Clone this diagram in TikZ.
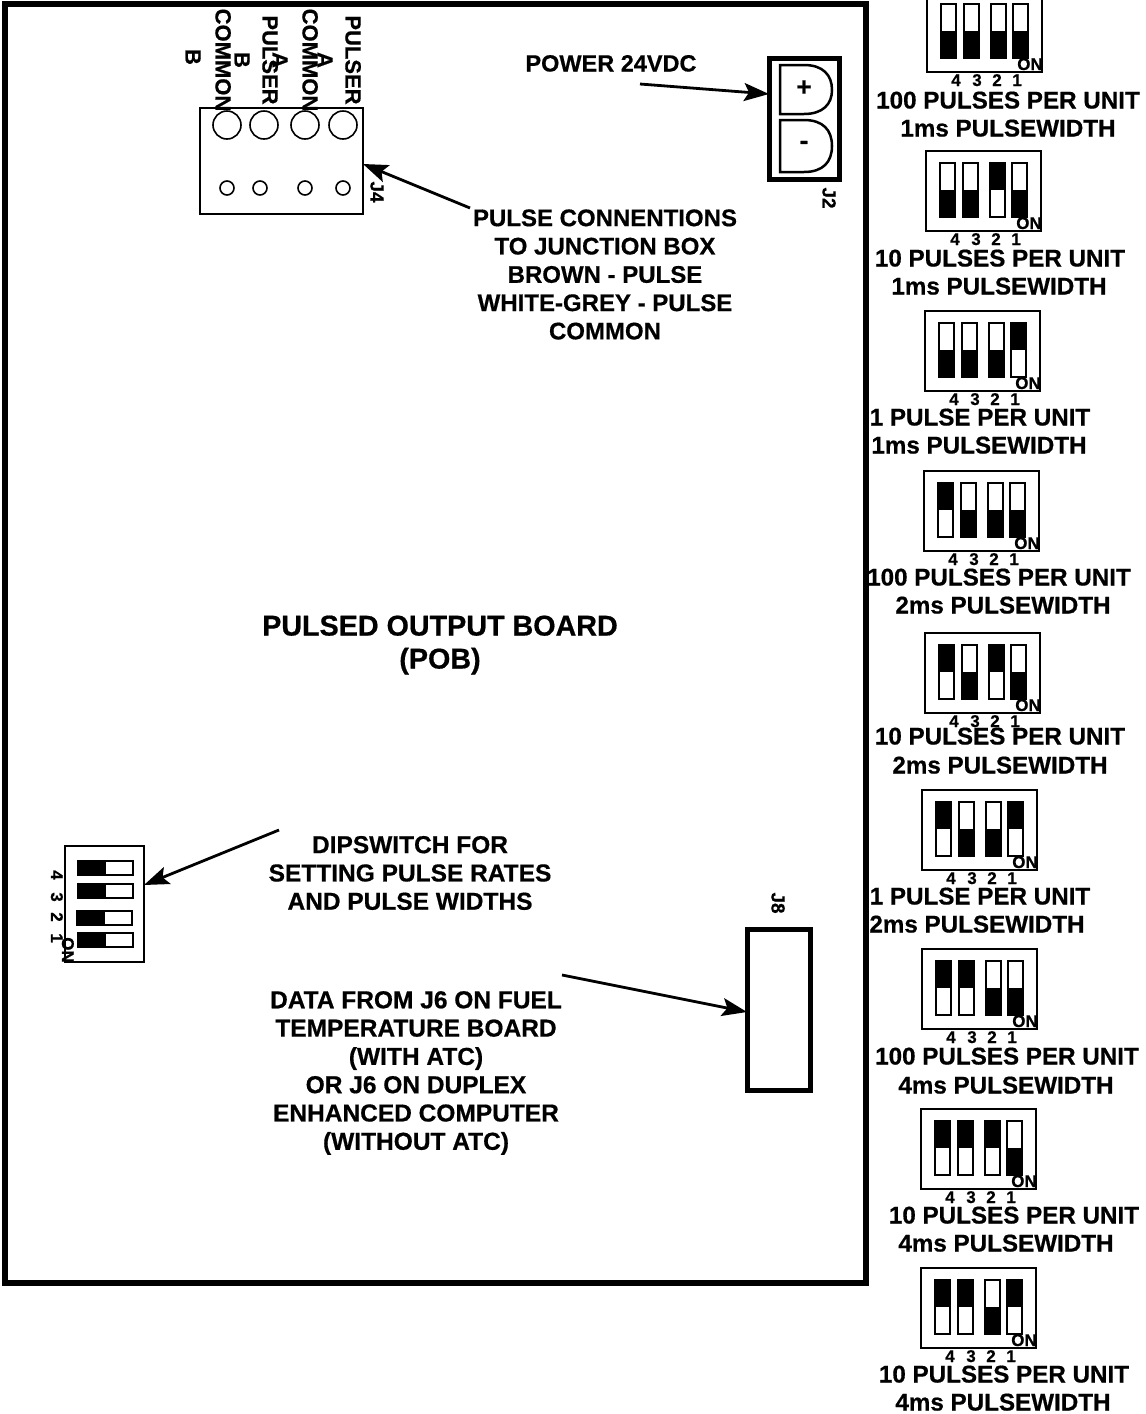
\documentclass[tikz,border=0pt]{standalone}
\usepackage{fontspec}
\setmainfont{Liberation Sans}[BoldFeatures={FakeBold=0.6}]
\usetikzlibrary{arrows.meta}
\tikzset{
  x=1pt,y=-1pt,
  lbl/.style={inner sep=0pt,outer sep=0pt,text depth=0pt,text height=17pt,font=\bfseries\fontsize{24.2}{28.3}\selectfont},
  block/.style={inner sep=0pt,outer sep=0pt,align=center,font=\bfseries\fontsize{24.5}{28.3}\selectfont},
  pin/.style={inner sep=0pt,outer sep=0pt,rotate=-90,text depth=0pt,text height=15pt,font=\bfseries\fontsize{22}{22}\selectfont},
  jlab/.style={pin,text height=13pt,font=\bfseries\fontsize{19}{19}\selectfont},
  tiny/.style={inner sep=0pt,outer sep=0pt,text depth=0pt,text height=12pt,font=\bfseries\fontsize{17}{17}\selectfont},
  conn/.style={draw,line width=2.8pt,-{Stealth[length=25pt,width=18pt,inset=5pt]},shorten >=0pt},
  swbox/.style={draw,line width=1.8pt,anchor=north west,inner sep=0pt,outer sep=0pt,minimum width=115pt,minimum height=80pt},
  slot/.style={draw,line width=1.8pt,fill=white},
  hole/.style={draw,circle,line width=1.6pt,inner sep=0pt,outer sep=0pt},
}
\newcommand{\vslider}[3]{% x, top, up?
  \draw[slot] (#1,#2+12) rectangle (#1+15,#2+66);
  \ifnum#3=1 \fill (#1,#2+12) rectangle (#1+15,#2+39);
  \else \fill (#1,#2+39) rectangle (#1+15,#2+66);\fi
}
\newcommand{\dipv}[7]{% name,left,top,4,3,2,1
  \node[swbox] (#1) at (#2,#3) {};
  \vslider{#2+14}{#3}{#4}
  \vslider{#2+37}{#3}{#5}
  \vslider{#2+64}{#3}{#6}
  \vslider{#2+86}{#3}{#7}
  \node[tiny] (#1d4) at (#2+29,#3+88) {4};
  \node[tiny] (#1d3) at (#2+50,#3+88) {3};
  \node[tiny] (#1d2) at (#2+70,#3+88) {2};
  \node[tiny] (#1d1) at (#2+90,#3+88) {1};
  \node[tiny] (#1on) at (#2+103,#3+72) {ON};
}
\newcommand{\hslider}[2]{% x,y
  \draw[slot] (#1,#2) rectangle (#1+55,#2+14);
  \fill (#1,#2) rectangle (#1+28,#2+14);
}
\begin{document}
\begin{tikzpicture}
\clip (0,0) rectangle (1146,1414);
\fill[white] (0,0) rectangle (1146,1414);
% board
\node[draw,line width=6pt,anchor=north west,inner sep=0pt,outer sep=0pt,minimum width=861pt,minimum height=1279pt] (board) at (5,4) {};
\node[inner sep=0pt,align=center,font=\bfseries\fontsize{28.7}{33}\selectfont] (title) at (440,645) {PULSED OUTPUT BOARD\\(POB)};
% J4
\node[draw,line width=1.8pt,anchor=north west,inner sep=0pt,outer sep=0pt,minimum width=163pt,minimum height=106pt] (j4) at (200,108) {};
\foreach \n/\x in {a/227,b/264,c/305,d/343}{
  \node[hole,minimum size=28pt] (big\n) at (\x,125) {};
}
\foreach \n/\x in {a/227,b/260,c/305,d/343}{
  \node[hole,minimum size=14pt] (small\n) at (\x,188) {};
}
\node[pin] (pc1) at (223,60) {COMMON};
\node[pin] (pp1) at (270,60) {PULSER};
\node[pin] (pc2) at (310,60) {COMMON};
\node[pin] (pp2) at (353,60) {PULSER};
\node[pin] (pb1) at (193,57) {B};
\node[pin] (pb2) at (242,60) {B};
\node[pin] (pa1) at (280,60) {A};
\node[pin] (pa2) at (325,60) {A};
\node[jlab] (j4l) at (377,192) {J4};
% J2
\node[draw,line width=5pt,anchor=north west,inner sep=0pt,outer sep=0pt,minimum width=70pt,minimum height=121pt] (j2) at (769,58) {};
\draw[line width=2.5pt] (780,65) -- (804,65) .. controls (823,65) and (832,75) .. (832,90) .. controls (832,104) and (823,114) .. (804,114) -- (780,114) -- cycle;
\draw[line width=2.5pt] (780,120) -- (804,120) .. controls (823,120) and (832,130) .. (832,146) .. controls (832,162) and (823,172) .. (804,172) -- (780,172) -- cycle;
\node[inner sep=0pt,font=\bfseries\fontsize{26}{26}\selectfont] (plus) at (804,88) {+};
\node[inner sep=0pt,font=\bfseries\fontsize{26}{26}\selectfont] (minus) at (804,145) {-};
\node[jlab] (j2l) at (829,198) {J2};
% J8
\node[draw,line width=5pt,anchor=north west,inner sep=0pt,outer sep=0pt,minimum width=63pt,minimum height=161pt] (j8) at (747,929) {};
\node[jlab] (j8l) at (778,903) {J8};
% DIP on board
\node[draw,line width=1.8pt,anchor=north west,inner sep=0pt,outer sep=0pt,minimum width=79pt,minimum height=116pt] (dip) at (65,846) {};
\hslider{78}{861}
\hslider{78}{884}
\hslider{77}{911}
\hslider{78}{933}
\node[tiny,rotate=-90] (dd4) at (57,875) {4};
\node[tiny,rotate=-90] (dd3) at (57,897) {3};
\node[tiny,rotate=-90] (dd2) at (57,917) {2};
\node[tiny,rotate=-90] (dd1) at (57,938) {1};
\node[tiny,rotate=-90] (ddon) at (68,950) {ON};
% texts
\node[lbl,font=\bfseries\fontsize{23.5}{28}\selectfont] (power) at (611,63) {POWER 24VDC};
\node[block,font=\bfseries\fontsize{24}{28.3}\selectfont] (pulsetxt) at (605,274.5) {PULSE CONNENTIONS\\TO JUNCTION BOX\\BROWN - PULSE\\WHITE-GREY - PULSE\\COMMON};
\node[block] (diptxt) at (410,873) {DIPSWITCH FOR\\SETTING PULSE RATES\\AND PULSE WIDTHS};
\node[block] (datatxt) at (416,1073) {DATA FROM J6 ON FUEL\\TEMPERATURE BOARD\\(WITH ATC)\\OR J6 ON DUPLEX\\ENHANCED COMPUTER\\(WITHOUT ATC)};
% connectors
\coordinate (powerfrom) at (640,84);
\coordinate (pulsefrom) at (470,208);
\coordinate (dipfrom) at (279,830);
\coordinate (datafrom) at (562,975);
\draw[conn] (powerfrom) -- (j2.west |- 0,94);
\draw[conn] (pulsefrom) -- (j4.east |- 0,164);
\draw[conn] (dipfrom) -- (dip.east |- 0,885);
\draw[conn] (datafrom) -- (j8.west |- 0,1012);
% setting switches
\dipv{s1}{927}{-8}{0}{0}{0}{0}
\dipv{s2}{926}{151}{0}{0}{1}{0}
\dipv{s3}{925}{311}{0}{0}{0}{1}
\dipv{s4}{924}{471}{1}{0}{0}{0}
\dipv{s5}{925}{633}{1}{0}{1}{0}
\dipv{s6}{922}{790}{1}{0}{0}{1}
\dipv{s7}{922}{949}{1}{1}{0}{0}
\dipv{s8}{921}{1109}{1}{1}{1}{0}
\dipv{s9}{921}{1268}{1}{1}{0}{1}
\foreach \n/\x/\y/\t in {
  a1/1008/100/100 PULSES PER UNIT, a2/1008/128/1ms PULSEWIDTH,
  b1/1000/258/10 PULSES PER UNIT, b2/999/286/1ms PULSEWIDTH,
  c1/980/417/1 PULSE PER UNIT, c2/979/445/1ms PULSEWIDTH,
  d1/999/577/100 PULSES PER UNIT, d2/1003/605/2ms PULSEWIDTH,
  e1/1000/736/10 PULSES PER UNIT, e2/1000/765/2ms PULSEWIDTH,
  f1/980/896/1 PULSE PER UNIT, f2/977/924/2ms PULSEWIDTH,
  g1/1007/1056/100 PULSES PER UNIT, g2/1006/1085/4ms PULSEWIDTH,
  h1/1014/1215/10 PULSES PER UNIT, h2/1006/1243/4ms PULSEWIDTH,
  i1/1004/1374/10 PULSES PER UNIT, i2/1003/1402/4ms PULSEWIDTH}{
  \node[lbl] (t\n) at (\x,\y) {\t};
}
\end{tikzpicture}
\end{document}
